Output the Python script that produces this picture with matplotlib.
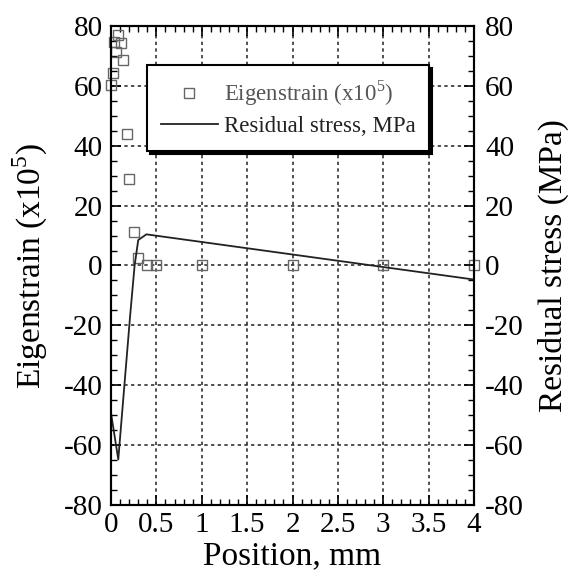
import matplotlib
matplotlib.use("Agg")
import matplotlib.pyplot as plt
from matplotlib.ticker import MultipleLocator, FuncFormatter

plt.rcParams['font.family'] = ['Liberation Serif', 'DejaVu Serif']
plt.rcParams['mathtext.fontset'] = 'custom'
plt.rcParams['mathtext.rm'] = 'Liberation Serif'
plt.rcParams['axes.unicode_minus'] = False

# eigenstrain (x10^5)
pos_eig = [0.0, 0.02, 0.033, 0.055, 0.077, 0.11, 0.13, 0.18, 0.2, 0.25, 0.3, 0.4, 0.5, 1.0, 2.0, 3.0, 4.0]
eig = [60.3, 64.3, 74.6, 71.3, 77.0, 74.3, 68.6, 44.0, 29.0, 11.2, 2.5, 0, 0, 0, 0, 0, 0]

# residual stress, MPa
pos_rs = [0.0, 0.08, 0.21, 0.26, 0.30, 0.39, 4.0]
rs = [-49.3, -64.8, -17.0, 0.0, 8.5, 10.4, -4.7]

fig = plt.figure(figsize=(5.77, 5.77), dpi=100)
ax = fig.add_axes([0.1924, 0.1248, 0.6291, 0.8302])
ax2 = ax.twinx()

sq, = ax.plot(pos_eig, eig, linestyle='none', marker='s', markersize=6.5,
              markerfacecolor='none', markeredgecolor='#666666', markeredgewidth=1.0,
              label='Eigenstrain (x10$^{5}$)', zorder=3, clip_on=False)
ln, = ax2.plot(pos_rs, rs, color='#222222', lw=1.3, label='Residual stress, MPa')

for a in (ax, ax2):
    a.set_xlim(0, 4)
    a.set_ylim(-80, 80)
    a.yaxis.set_major_locator(MultipleLocator(20))
    a.yaxis.set_minor_locator(MultipleLocator(5))
ax.xaxis.set_major_locator(MultipleLocator(0.5))
ax.xaxis.set_minor_locator(MultipleLocator(0.1))
ax.xaxis.set_major_formatter(FuncFormatter(lambda v, p: ('%g' % v)))

# dotted grid at the inner major ticks
for xv in [0.5, 1, 1.5, 2, 2.5, 3, 3.5]:
    ax.axvline(xv, color='#333333', lw=1.2, linestyle=(0, (2, 2)), zorder=1)
for yv in [-60, -40, -20, 0, 20, 40, 60]:
    ax.axhline(yv, color='#333333', lw=1.2, linestyle=(0, (2, 2)), zorder=1)

ax.tick_params(axis='x', which='both', direction='in', top=True, labelsize=21, pad=5)
ax.tick_params(axis='y', which='both', direction='in', labelsize=21, pad=6)
ax2.tick_params(axis='y', which='both', direction='in', labelsize=21, pad=8)
for a in (ax, ax2):
    a.tick_params(which='major', length=7, width=1.2)
    a.tick_params(which='minor', length=4, width=1.0)
    for s in a.spines.values():
        s.set_linewidth(1.5)

ax.set_xlabel('Position, mm', fontsize=24, labelpad=2)
ax.set_ylabel('Eigenstrain (x10$^{5}$)', fontsize=24, labelpad=10)
ax2.set_ylabel('Residual stress (MPa)', fontsize=24, labelpad=10)

leg = ax2.legend(handles=[sq, ln], loc='upper left', bbox_to_anchor=(0.099, 0.919),
                 fontsize=16.5, frameon=True, fancybox=False, edgecolor='black',
                 shadow={'color': 'black', 'alpha': 1}, handlelength=2.5,
                 handletextpad=0.25, borderpad=0.6, labelspacing=0.35, borderaxespad=0)
leg.get_frame().set_linewidth(1.5)
leg.get_texts()[0].set_color('#555555')
leg.get_texts()[1].set_color('#222222')

fig.savefig('out.png', dpi=100)
